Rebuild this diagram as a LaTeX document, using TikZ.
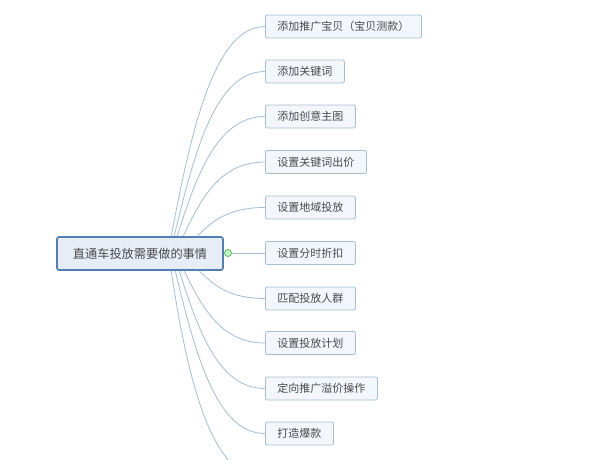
\documentclass[tikz,border=0pt]{standalone}
\usepackage{fontspec}
\newfontfamily\cjk{Noto Sans CJK SC}
\usetikzlibrary{shapes.geometric}
\definecolor{boxline}{HTML}{A5BCD3}
\definecolor{boxfill}{HTML}{F3F7FC}
\definecolor{rootline}{HTML}{4F7FB5}
\definecolor{rootfill}{HTML}{E6EDF6}
\definecolor{branchline}{HTML}{A3BDD5}
\definecolor{txt}{HTML}{4A4A4A}
\tikzset{
  item/.style={draw=boxline, fill=boxfill, rounded corners=2pt, line width=0.8pt,
    minimum height=23pt, inner xsep=12pt, inner ysep=0pt, anchor=west,
    font=\cjk\fontsize{11}{13}\selectfont, text=txt},
  root/.style={draw=rootline, fill=rootfill, rounded corners=2pt, line width=1.6pt,
    minimum width=166pt, minimum height=33pt, inner sep=0pt,
    font=\cjk\fontsize{12.2}{14}\selectfont, text=txt},
  fold/.style={circle, draw=green!55!black!70, fill=green!25, line width=0.7pt,
    minimum size=7pt, inner sep=0pt},
  branch/.style={draw=branchline, line width=0.8pt}
}
\begin{document}
\begin{tikzpicture}[x=1pt, y=-1pt]
          \useasboundingbox[fill=white] (0,0) rectangle (596,459);

          \node[root] (root) at (140,253.5) {直通车投放需要做的事情};
          \node[fold] (fold) at (228,253) {};

          \node[item] (c1) at (265,26.5) {添加推广宝贝（宝贝测款）};
          \node[item] (c2) at (265,71.5) {添加关键词};
          \node[item] (c3) at (265,116.5) {添加创意主图};
          \node[item] (c4) at (265,162) {设置关键词出价};
          \node[item] (c5) at (265,207.5) {设置地域投放};
          \node[item] (c6) at (265,253) {设置分时折扣};
          \node[item] (c7) at (265,298.5) {匹配投放人群};
          \node[item] (c8) at (265,343) {设置投放计划};
          \node[item] (c9) at (265,388.5) {定向推广溢价操作};
          \node[item] (c10) at (265,433.5) {打造爆款};
          \coordinate (c11) at (265,479);

          % upper branches
          \draw[branch] ([xshift=115pt]root.north west) .. controls +(20,-105) and +(-51,0) .. (c1.west);
          \draw[branch] ([xshift=118pt]root.north west) .. controls +(20,-83) and +(-50,0) .. (c2.west);
          \draw[branch] ([xshift=121pt]root.north west) .. controls +(19,-60) and +(-48,0) .. (c3.west);
          \draw[branch] ([xshift=127pt]root.north west) .. controls +(18,-38) and +(-45,0) .. (c4.west);
          \draw[branch] ([xshift=141pt]root.north west) .. controls +(15,-15) and +(-37,0) .. (c5.west);

          \draw[branch] (fold) -- (c6.west);

          % lower branches
          \draw[branch] ([xshift=143pt]root.south west) .. controls +(14,14) and +(-36,0) .. (c7.west);
          \draw[branch] ([xshift=128pt]root.south west) .. controls +(18,37) and +(-44,0) .. (c8.west);
          \draw[branch] ([xshift=123pt]root.south west) .. controls +(19,59) and +(-47,0) .. (c9.west);
          \draw[branch] ([xshift=119pt]root.south west) .. controls +(20,82) and +(-49,0) .. (c10.west);
          \draw[branch] ([xshift=115pt]root.south west) .. controls +(18,120) and +(-51,0) .. (c11);

        \end{tikzpicture}
\end{document}
